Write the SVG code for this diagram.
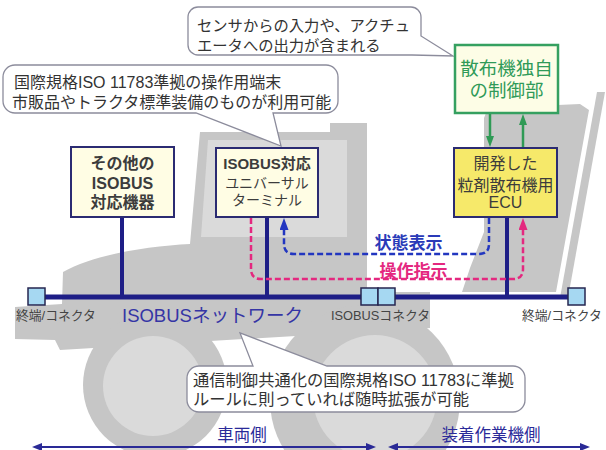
<svg xmlns="http://www.w3.org/2000/svg" width="606" height="450" viewBox="0 0 606 450">
<defs>
<style>
text { font-family: "Liberation Sans", "Noto Sans CJK JP", sans-serif; }
.sil { fill: #c6c6c6; }
.sil-lt { fill: #dadada; }
.callout { fill: #ffffff; stroke: #8c8c9c; stroke-width: 1.3; }
.ctext { fill: #333333; }
.box { fill: #fffde4; stroke: #2b2b72; stroke-width: 2; }
.ecu { fill: #f6e96a; stroke: #2b2b72; stroke-width: 2; }
.gbox { fill: #fdfde6; stroke: #35a060; stroke-width: 2.5; }
.btext { fill: #3c3c3c; text-anchor: middle; }
.gtext { fill: #2f9a58; text-anchor: middle; font-size: 18.5px; }
.bus { stroke: #1e1e86; stroke-width: 5; fill: none; }
.drop { stroke: #1e1e86; stroke-width: 4; fill: none; }
.conn { fill: #a6d8f2; stroke: #262650; stroke-width: 1.5; }
.lbl { font-size: 12.8px; fill: #444444; }
.dash-blue { stroke: #2236c0; stroke-width: 2.5; fill: none; stroke-dasharray: 6 3; }
.dash-pink { stroke: #e4287f; stroke-width: 2.5; fill: none; stroke-dasharray: 6 3; }
.garrow { stroke: #2f9a55; stroke-width: 2.5; fill: none; }
.side { stroke: #2a2a96; stroke-width: 2; fill: none; }
.sidetext { fill: #2a2a99; font-size: 16.5px; text-anchor: middle; }
</style>
<marker id="ahBlue" markerUnits="userSpaceOnUse" viewBox="0 0 12 9" refX="0" refY="4.5" markerWidth="12" markerHeight="9" orient="auto">
  <path d="M0,0 L12,4.5 L0,9 Z" fill="#2236c0"/>
</marker>
<marker id="ahPink" markerUnits="userSpaceOnUse" viewBox="0 0 12 9" refX="0" refY="4.5" markerWidth="12" markerHeight="9" orient="auto">
  <path d="M0,0 L12,4.5 L0,9 Z" fill="#e4287f"/>
</marker>
<marker id="ahGreen" markerUnits="userSpaceOnUse" viewBox="0 0 11 8" refX="0" refY="4" markerWidth="11" markerHeight="8" orient="auto">
  <path d="M0,0 L11,4 L0,8 Z" fill="#2f9a55"/>
</marker>
<marker id="ahSide" markerUnits="userSpaceOnUse" viewBox="0 0 10 8" refX="0" refY="4" markerWidth="10" markerHeight="8" orient="auto-start-reverse">
  <path d="M0,0 L10,4 L0,8 Z" fill="#2a2a96"/>
</marker>
</defs>

<rect width="606" height="450" fill="#ffffff"/>

<!-- tractor and implement silhouette -->
<g id="silhouette">
  <path class="sil" d="M15,307 L62,304 L63,272 C95,254 150,246 190,244 L200,132 L330,132 L330,123 L367,123 L367,292 L430,292 L430,328 L60,350 L55,340 L15,339 Z"/>
  <path class="sil-lt" d="M208,140 L347,140 L347,237 L201,237 Z"/>
  <circle class="sil" cx="155" cy="385" r="72"/>
  <circle class="sil-lt" cx="153" cy="386" r="50"/>
  <circle class="sil" cx="365" cy="400" r="95"/>
  <circle class="sil-lt" cx="375" cy="397" r="62"/>
  <path class="sil" d="M484,118 L488,108 L580,104 L589,110 L556,292 L462,292 L470,268 L484,232 Z"/>
  <path class="sil" d="M597,92 L605,92 L568,298 L560,298 Z"/>
</g>

<!-- callouts -->
<g id="callout-io">
  <path class="callout" d="M198,7 H411 A10,10 0 0 1 421,17 V36 L453,56 L412,55 H198 A10,10 0 0 1 188,45 V17 A10,10 0 0 1 198,7 Z"/>
  <text class="ctext" font-size="15.3" x="197" y="30.5">センサからの入力や、アクチュ</text>
  <text class="ctext" font-size="15.3" x="197" y="50.5">エータへの出力が含まれる</text>
</g>
<g id="callout-terminal">
  <path class="callout" d="M15,65 H326 A12,12 0 0 1 338,77 V101 A12,12 0 0 1 326,113 H273 L281,146 L196,113 H15 A12,12 0 0 1 3,101 V77 A12,12 0 0 1 15,65 Z"/>
  <text class="ctext" font-size="16" x="14" y="88">国際規格ISO 11783準拠の操作用端末</text>
  <text class="ctext" font-size="16" x="12" y="108">市販品やトラクタ標準装備のものが利用可能</text>
</g>
<g id="callout-network">
  <path class="callout" d="M199,366 H253 L240,333 L327,366 H513 A12,12 0 0 1 525,378 V400 A12,12 0 0 1 513,412 H199 A12,12 0 0 1 187,400 V378 A12,12 0 0 1 199,366 Z"/>
  <text class="ctext" font-size="16.3" x="193" y="386">通信制御共通化の国際規格ISO 11783に準拠</text>
  <text class="ctext" font-size="16.3" x="193" y="405">ルールに則っていれば随時拡張が可能</text>
</g>

<!-- connectors -->
<g id="connectors">
  <line class="bus" x1="45" y1="297" x2="568" y2="297"/>
  <line class="drop" x1="122" y1="217" x2="122" y2="297"/>
  <line class="drop" x1="267" y1="217" x2="267" y2="297"/>
  <line class="drop" x1="507" y1="217" x2="507" y2="297"/>
  <path class="dash-blue" d="M489,218 V244 Q489,254 479,254 H294 Q284,254 284,244 V230" marker-end="url(#ahBlue)"/>
  <path class="dash-pink" d="M251,218 V269 Q251,279 261,279 H513 Q523,279 523,269 V230" marker-end="url(#ahPink)"/>
  <line class="garrow" x1="490" y1="114" x2="490" y2="136" marker-end="url(#ahGreen)"/>
  <line class="garrow" x1="523" y1="147" x2="523" y2="125" marker-end="url(#ahGreen)"/>
  <line class="side" x1="42" y1="447" x2="366" y2="447" marker-start="url(#ahSide)" marker-end="url(#ahSide)"/>
  <line class="side" x1="398" y1="447" x2="580" y2="447" marker-start="url(#ahSide)" marker-end="url(#ahSide)"/>
</g>

<!-- bus connectors -->
<g id="terminator-left"><rect class="conn" x="28" y="288" width="17" height="17"/></g>
<g id="isobus-connector">
  <rect class="conn" x="361" y="288" width="17" height="17"/>
  <rect class="conn" x="378" y="288" width="17" height="17"/>
</g>
<g id="terminator-right"><rect class="conn" x="568" y="288" width="17" height="17"/></g>

<!-- nodes -->
<g id="other-devices">
  <rect class="box" x="71" y="147" width="103" height="70"/>
  <text class="btext" font-size="16" font-weight="bold" x="122.5" y="169">その他の</text>
  <text class="btext" font-size="16" font-weight="bold" x="122.5" y="189">ISOBUS</text>
  <text class="btext" font-size="16" font-weight="bold" x="122.5" y="208">対応機器</text>
</g>
<g id="universal-terminal">
  <rect class="box" x="216" y="148" width="102" height="69"/>
  <text class="btext" font-size="15" font-weight="bold" x="267" y="168.5">ISOBUS対応</text>
  <text class="btext" font-size="14" x="267" y="188">ユニバーサル</text>
  <text class="btext" font-size="14" x="267" y="205">ターミナル</text>
</g>
<g id="ecu">
  <rect class="ecu" x="454" y="148" width="103" height="69"/>
  <text class="btext" font-size="16" x="505.5" y="169">開発した</text>
  <text class="btext" font-size="16" x="505.5" y="191">粒剤散布機用</text>
  <text class="btext" font-size="16" x="505.5" y="208">ECU</text>
</g>
<g id="spreader-control">
  <rect class="gbox" x="455" y="45" width="103" height="68"/>
  <text class="gtext" x="506.5" y="75">散布機独自</text>
  <text class="gtext" x="506.5" y="97">の制御部</text>
</g>

<!-- labels -->
<g id="labels">
  <text class="lbl" x="16" y="319.5">終端/コネクタ</text>
  <text x="122" y="321.5" font-size="18.5" fill="#3535a5">ISOBUSネットワーク</text>
  <text class="lbl" x="331" y="319.5">ISOBUSコネクタ</text>
  <text class="lbl" x="522" y="319.5">終端/コネクタ</text>
  <text x="408.5" y="248.5" font-size="17" font-weight="bold" fill="#2a3ab8" text-anchor="middle">状態表示</text>
  <text x="413.5" y="276.5" font-size="17" font-weight="bold" fill="#e4287f" text-anchor="middle">操作指示</text>
  <text class="sidetext" x="242" y="441">車両側</text>
  <text class="sidetext" x="491" y="441">装着作業機側</text>
</g>
</svg>
